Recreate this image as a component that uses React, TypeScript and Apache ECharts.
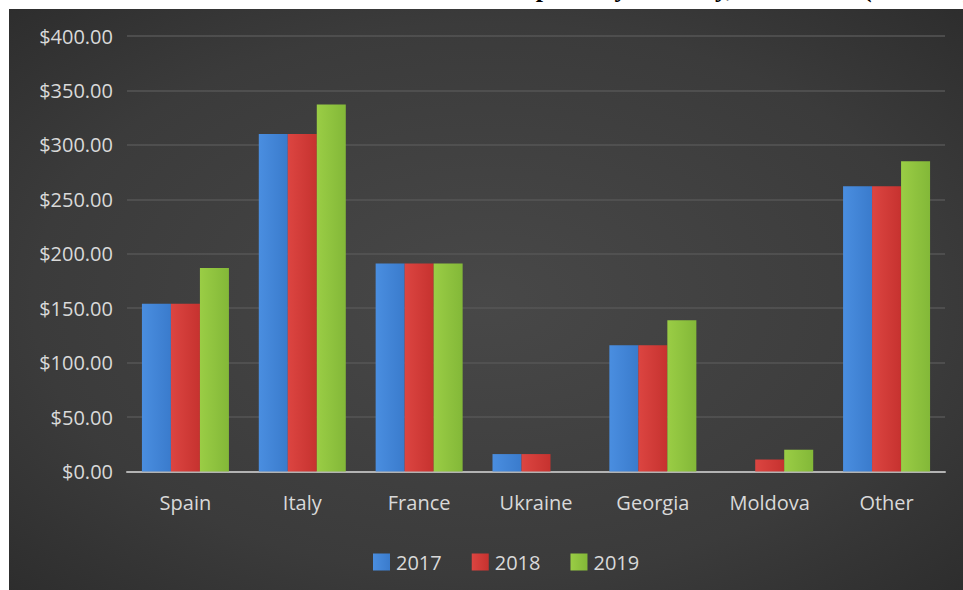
import React, { useEffect, useRef } from "react";
import * as echarts from "echarts";

const countries = ["Spain", "Italy", "France", "Ukraine", "Georgia", "Moldova", "Other"];
const years = ["2017", "2018", "2019"];
const values2017 = [154, 310, 191, 16, 116, 0, 262];
const values2018 = [154, 310, 191, 16, 116, 11, 262];
const values2019 = [187, 337, 191, 0, 139, 20, 285];
const seriesValues = [values2017, values2018, values2019];
const yTicks = { min: 0, max: 400, interval: 50 };
const titleText = "Wine Imports by Country, 2017–2019 (Millions)";

const barColors = [
  ["#4a8ee0", "#3a7bcc"],
  ["#dc4541", "#c6322f"],
  ["#9acd45", "#83b838"],
];

export default function App() {
  const ref = useRef<HTMLDivElement>(null);
  useEffect(() => {
    if (!ref.current) return;
    const chart = echarts.init(ref.current, undefined, { renderer: "svg" });
    const font = "'Open Sans', 'Noto Sans', sans-serif";
    chart.setOption({
      animation: false,
      backgroundColor: "#ffffff",
      graphic: [
        {
          type: "rect",
          z: -10,
          silent: true,
          shape: { x: 9, y: 9, width: 954, height: 581 },
          style: {
            fill: {
              type: "radial",
              x: 0.5,
              y: 0.5,
              r: 0.95,
              colorStops: [
                { offset: 0, color: "#484848" },
                { offset: 0.5, color: "#3b3b3b" },
                { offset: 1, color: "#1f1f1f" },
              ],
            },
          },
        },
        {
          type: "text",
          z: -5,
          x: 705,
          y: 1,
          silent: true,
          style: {
            text: titleText,
            fill: "#000000",
            font: "bold 26px 'Liberation Serif', 'DejaVu Serif', serif",
            textAlign: "center",
            textVerticalAlign: "bottom",
          },
        },
      ],
      grid: { left: 127, right: 18, top: 36, bottom: 118.5, containLabel: false },
      legend: {
        data: years,
        left: 368,
        top: 547,
        itemWidth: 17,
        itemHeight: 17,
        itemGap: 30,
        icon: "rect",
        textStyle: { color: "#d9d9d9", fontSize: 20, fontFamily: font, padding: [0, 0, 0, 1] },
      },
      xAxis: {
        type: "category",
        data: countries,
        axisTick: { show: false },
        axisLine: { lineStyle: { color: "#b3b3b3", width: 2 } },
        axisLabel: { color: "#d9d9d9", fontSize: 20, fontFamily: font, margin: 21 },
        splitLine: { show: false },
      },
      yAxis: {
        type: "value",
        min: yTicks.min,
        max: yTicks.max,
        interval: yTicks.interval,
        axisLine: { show: false },
        axisTick: { show: false },
        axisLabel: {
          color: "#d9d9d9",
          fontSize: 20,
          fontFamily: font,
          margin: 14,
          formatter: (v: number) => "$" + v.toFixed(2),
        },
        splitLine: { lineStyle: { color: "#565656", width: 1.5 } },
      },
      series: years.map((y, i) => ({
        name: y,
        type: "bar",
        data: seriesValues[i],
        barWidth: 29,
        barGap: "0%",
        itemStyle: {
          color: {
            type: "linear",
            x: 0,
            y: 0,
            x2: 1,
            y2: 0,
            colorStops: [
              { offset: 0, color: barColors[i][0] },
              { offset: 1, color: barColors[i][1] },
            ],
          },
        },
      })),
    });
    return () => chart.dispose();
  }, []);
  return (
    <div
      ref={ref}
      style={{ position: "fixed", left: 0, top: 0, width: 963, height: 590 }}
    />
  );
}
